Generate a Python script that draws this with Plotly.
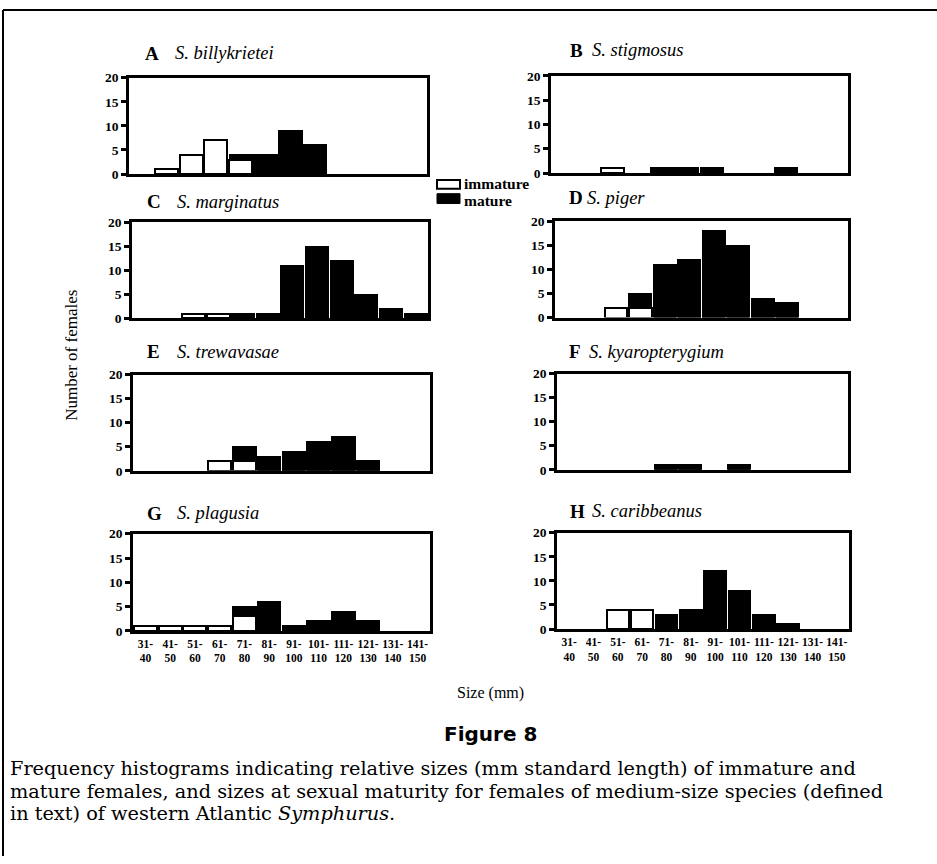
import plotly.graph_objects as go

W, H = 937, 864

bins = ["31-40", "41-50", "51-60", "61-70", "71-80", "81-90", "91-100",
        "101-110", "111-120", "121-130", "131-140", "141-150"]

letters = ["A", "B", "C", "D", "E", "F", "G", "H"]
species = ["S. billykrietei", "S. stigmosus", "S. marginatus", "S. piger",
           "S. trewavasae", "S. kyaropterygium", "S. plagusia", "S. caribbeanus"]

imm_A = [0, 1, 4, 7, 3, 0, 0, 0, 0, 0, 0, 0]
mat_A = [0, 0, 0, 0, 1, 4, 9, 6, 0, 0, 0, 0]
imm_B = [0, 0, 1, 0, 0, 0, 0, 0, 0, 0, 0, 0]
mat_B = [0, 0, 0, 0, 1, 1, 1, 0, 0, 1, 0, 0]
imm_C = [0, 0, 1, 1, 0, 0, 0, 0, 0, 0, 0, 0]
mat_C = [0, 0, 0, 0, 1, 1, 11, 15, 12, 5, 2, 1]
imm_D = [0, 0, 2, 2, 0, 0, 0, 0, 0, 0, 0, 0]
mat_D = [0, 0, 0, 3, 11, 12, 18, 15, 4, 3, 0, 0]
imm_E = [0, 0, 0, 2, 2, 0, 0, 0, 0, 0, 0, 0]
mat_E = [0, 0, 0, 0, 3, 3, 4, 6, 7, 2, 0, 0]
imm_F = [0, 0, 0, 0, 0, 0, 0, 0, 0, 0, 0, 0]
mat_F = [0, 0, 0, 0, 1, 1, 0, 1, 0, 0, 0, 0]
imm_G = [1, 1, 1, 1, 3, 0, 0, 0, 0, 0, 0, 0]
mat_G = [0, 0, 0, 0, 2, 6, 1, 2, 4, 2, 0, 0]
imm_H = [0, 0, 4, 4, 0, 0, 0, 0, 0, 0, 0, 0]
mat_H = [0, 0, 0, 0, 3, 4, 12, 8, 3, 1, 0, 0]

yticks = [0, 5, 10, 15, 20]

immature = [imm_A, imm_B, imm_C, imm_D, imm_E, imm_F, imm_G, imm_H]
mature = [mat_A, mat_B, mat_C, mat_D, mat_E, mat_F, mat_G, mat_H]

# panel boxes in pixels: (x0, x1, ytop, ybottom)
boxes = [
    (129, 427, 72, 170), (551, 848, 70, 169),
    (132, 428, 219, 317), (555, 848, 218, 316),
    (133, 430, 374, 472), (557, 848, 373, 471),
    (133, 430, 536, 635), (557, 849, 535, 633),
]
title_pos = [
    (143, 173, 47), (568, 590, 44),
    (145, 175, 198), (567, 585, 194),
    (145, 175, 351), (567, 587, 351),
    (145, 175, 515), (568, 590, 513),
]

SERIF = "Liberation Serif"

def nz(v):
    return [x if x != 0 else None for x in v]

fig = go.Figure()
layout = {}
annotations = []
shapes = []

for i in range(8):
    sfx = "" if i == 0 else str(i + 1)
    xa, ya = "x" + sfx, "y" + sfx
    fig.add_trace(go.Bar(x=bins, y=nz(immature[i]), xaxis=xa, yaxis=ya,
                         marker=dict(color="white", line=dict(color="black", width=2)),
                         name="immature", showlegend=False))
    fig.add_trace(go.Bar(x=bins, y=nz(mature[i]), xaxis=xa, yaxis=ya,
                         marker=dict(color="black", line=dict(color="black", width=1.5)),
                         name="mature", showlegend=False))
    x0, x1, yt, yb = boxes[i]
    bottom = i >= 6
    layout["xaxis" + sfx] = dict(
        domain=[x0 / W, x1 / W], anchor=ya, type="category",
        range=[-0.5, 11.5], showline=True, mirror=True, linecolor="black",
        linewidth=2.5, showgrid=False, zeroline=False, ticks="",
        showticklabels=bottom,
        tickmode="array", tickvals=bins,
        ticktext=[b.replace("-", "-<br>") for b in bins],
        tickfont=dict(family=SERIF, size=11.5, color="black", weight="bold"),
        tickangle=0,
    )
    layout["yaxis" + sfx] = dict(
        domain=[1 - yb / H, 1 - yt / H], anchor=xa, range=[0, 20],
        showline=True, mirror=True, linecolor="black", linewidth=2.5,
        showgrid=False, zeroline=False, ticks="outside", ticklen=5,
        tickwidth=2.5, tickcolor="black", tickmode="array", tickvals=yticks,
        tickfont=dict(family=SERIF, size=13.5, color="black", weight="bold"),
    )
    # inside tick marks (ticks cross the axis line)
    layout["yaxis" + str(9 + i)] = dict(
        domain=[1 - yb / H, 1 - yt / H], anchor=xa, overlaying=ya, side="left",
        range=[0, 20], showline=False, showgrid=False, zeroline=False,
        ticks="inside", ticklen=5, tickwidth=2.5, tickcolor="black",
        tickmode="array", tickvals=yticks[1:-1], showticklabels=False,
    )
    lx, tx, ty = title_pos[i]
    annotations.append(dict(x=lx / W, y=1 - ty / H, xref="paper", yref="paper",
                            text="<b>" + letters[i] + "</b>", showarrow=False,
                            xanchor="left", yanchor="middle",
                            font=dict(family=SERIF, size=19, color="black")))
    annotations.append(dict(x=tx / W, y=1 - ty / H, xref="paper", yref="paper",
                            text="<i>" + species[i] + "</i>", showarrow=False,
                            xanchor="left", yanchor="middle",
                            font=dict(family=SERIF, size=18.5, color="black")))

# legend
shapes.append(dict(type="rect", xref="paper", yref="paper",
                   x0=437 / W, x1=460 / W, y0=1 - 185 / H, y1=1 - 176 / H,
                   fillcolor="white", line=dict(color="black", width=2)))
shapes.append(dict(type="rect", xref="paper", yref="paper",
                   x0=437 / W, x1=460 / W, y0=1 - 200 / H, y1=1 - 190 / H,
                   fillcolor="black", line=dict(color="black", width=1)))
annotations.append(dict(x=462 / W, y=1 - 180 / H, xref="paper", yref="paper",
                        text="<b>immature</b>", showarrow=False, xanchor="left",
                        yanchor="middle", font=dict(family=SERIF, size=15.5, color="black")))
annotations.append(dict(x=462 / W, y=1 - 197 / H, xref="paper", yref="paper",
                        text="<b>mature</b>", showarrow=False, xanchor="left",
                        yanchor="middle", font=dict(family=SERIF, size=15.5, color="black")))

# axis titles
annotations.append(dict(x=72 / W, y=1 - 355 / H, xref="paper", yref="paper",
                        text="Number of females", showarrow=False, textangle=-90,
                        xanchor="center", yanchor="middle",
                        font=dict(family=SERIF, size=17, color="black")))
annotations.append(dict(x=490 / W, y=1 - 698 / H, xref="paper", yref="paper",
                        text="Size (mm)", showarrow=False,
                        xanchor="center", yanchor="middle",
                        font=dict(family=SERIF, size=16, color="black")))

# caption
annotations.append(dict(x=490 / W, y=1 - 740 / H, xref="paper", yref="paper",
                        text="<b>Figure 8</b>", showarrow=False,
                        xanchor="center", yanchor="middle",
                        font=dict(family="DejaVu Sans", size=20, color="black")))
caption = [
    "Frequency histograms indicating relative sizes (mm standard length) of immature and",
    "mature females, and sizes at sexual maturity for females of medium-size species (defined",
    "in text) of western Atlantic <i>Symphurus</i>.",
]
for k, line in enumerate(caption):
    annotations.append(dict(x=8 / W, y=1 - (775 + 23 * k) / H, xref="paper", yref="paper",
                            text=line, showarrow=False, xanchor="left", yanchor="middle",
                            font=dict(family="DejaVu Serif", size=19.3, color="black")))

# page frame (left and top)
shapes.append(dict(type="line", xref="paper", yref="paper", x0=3 / W, x1=3 / W,
                   y0=0, y1=1 - 3 / H, line=dict(color="black", width=2)))
shapes.append(dict(type="line", xref="paper", yref="paper", x0=3 / W, x1=1,
                   y0=1 - 3 / H, y1=1 - 3 / H, line=dict(color="black", width=2)))

fig.update_layout(
    width=W, height=H, margin=dict(l=0, r=0, t=0, b=0),
    paper_bgcolor="white", plot_bgcolor="white",
    barmode="stack", bargap=0.08, showlegend=False,
    annotations=annotations, shapes=shapes,
    **layout,
)

fig.write_html("out.html")
